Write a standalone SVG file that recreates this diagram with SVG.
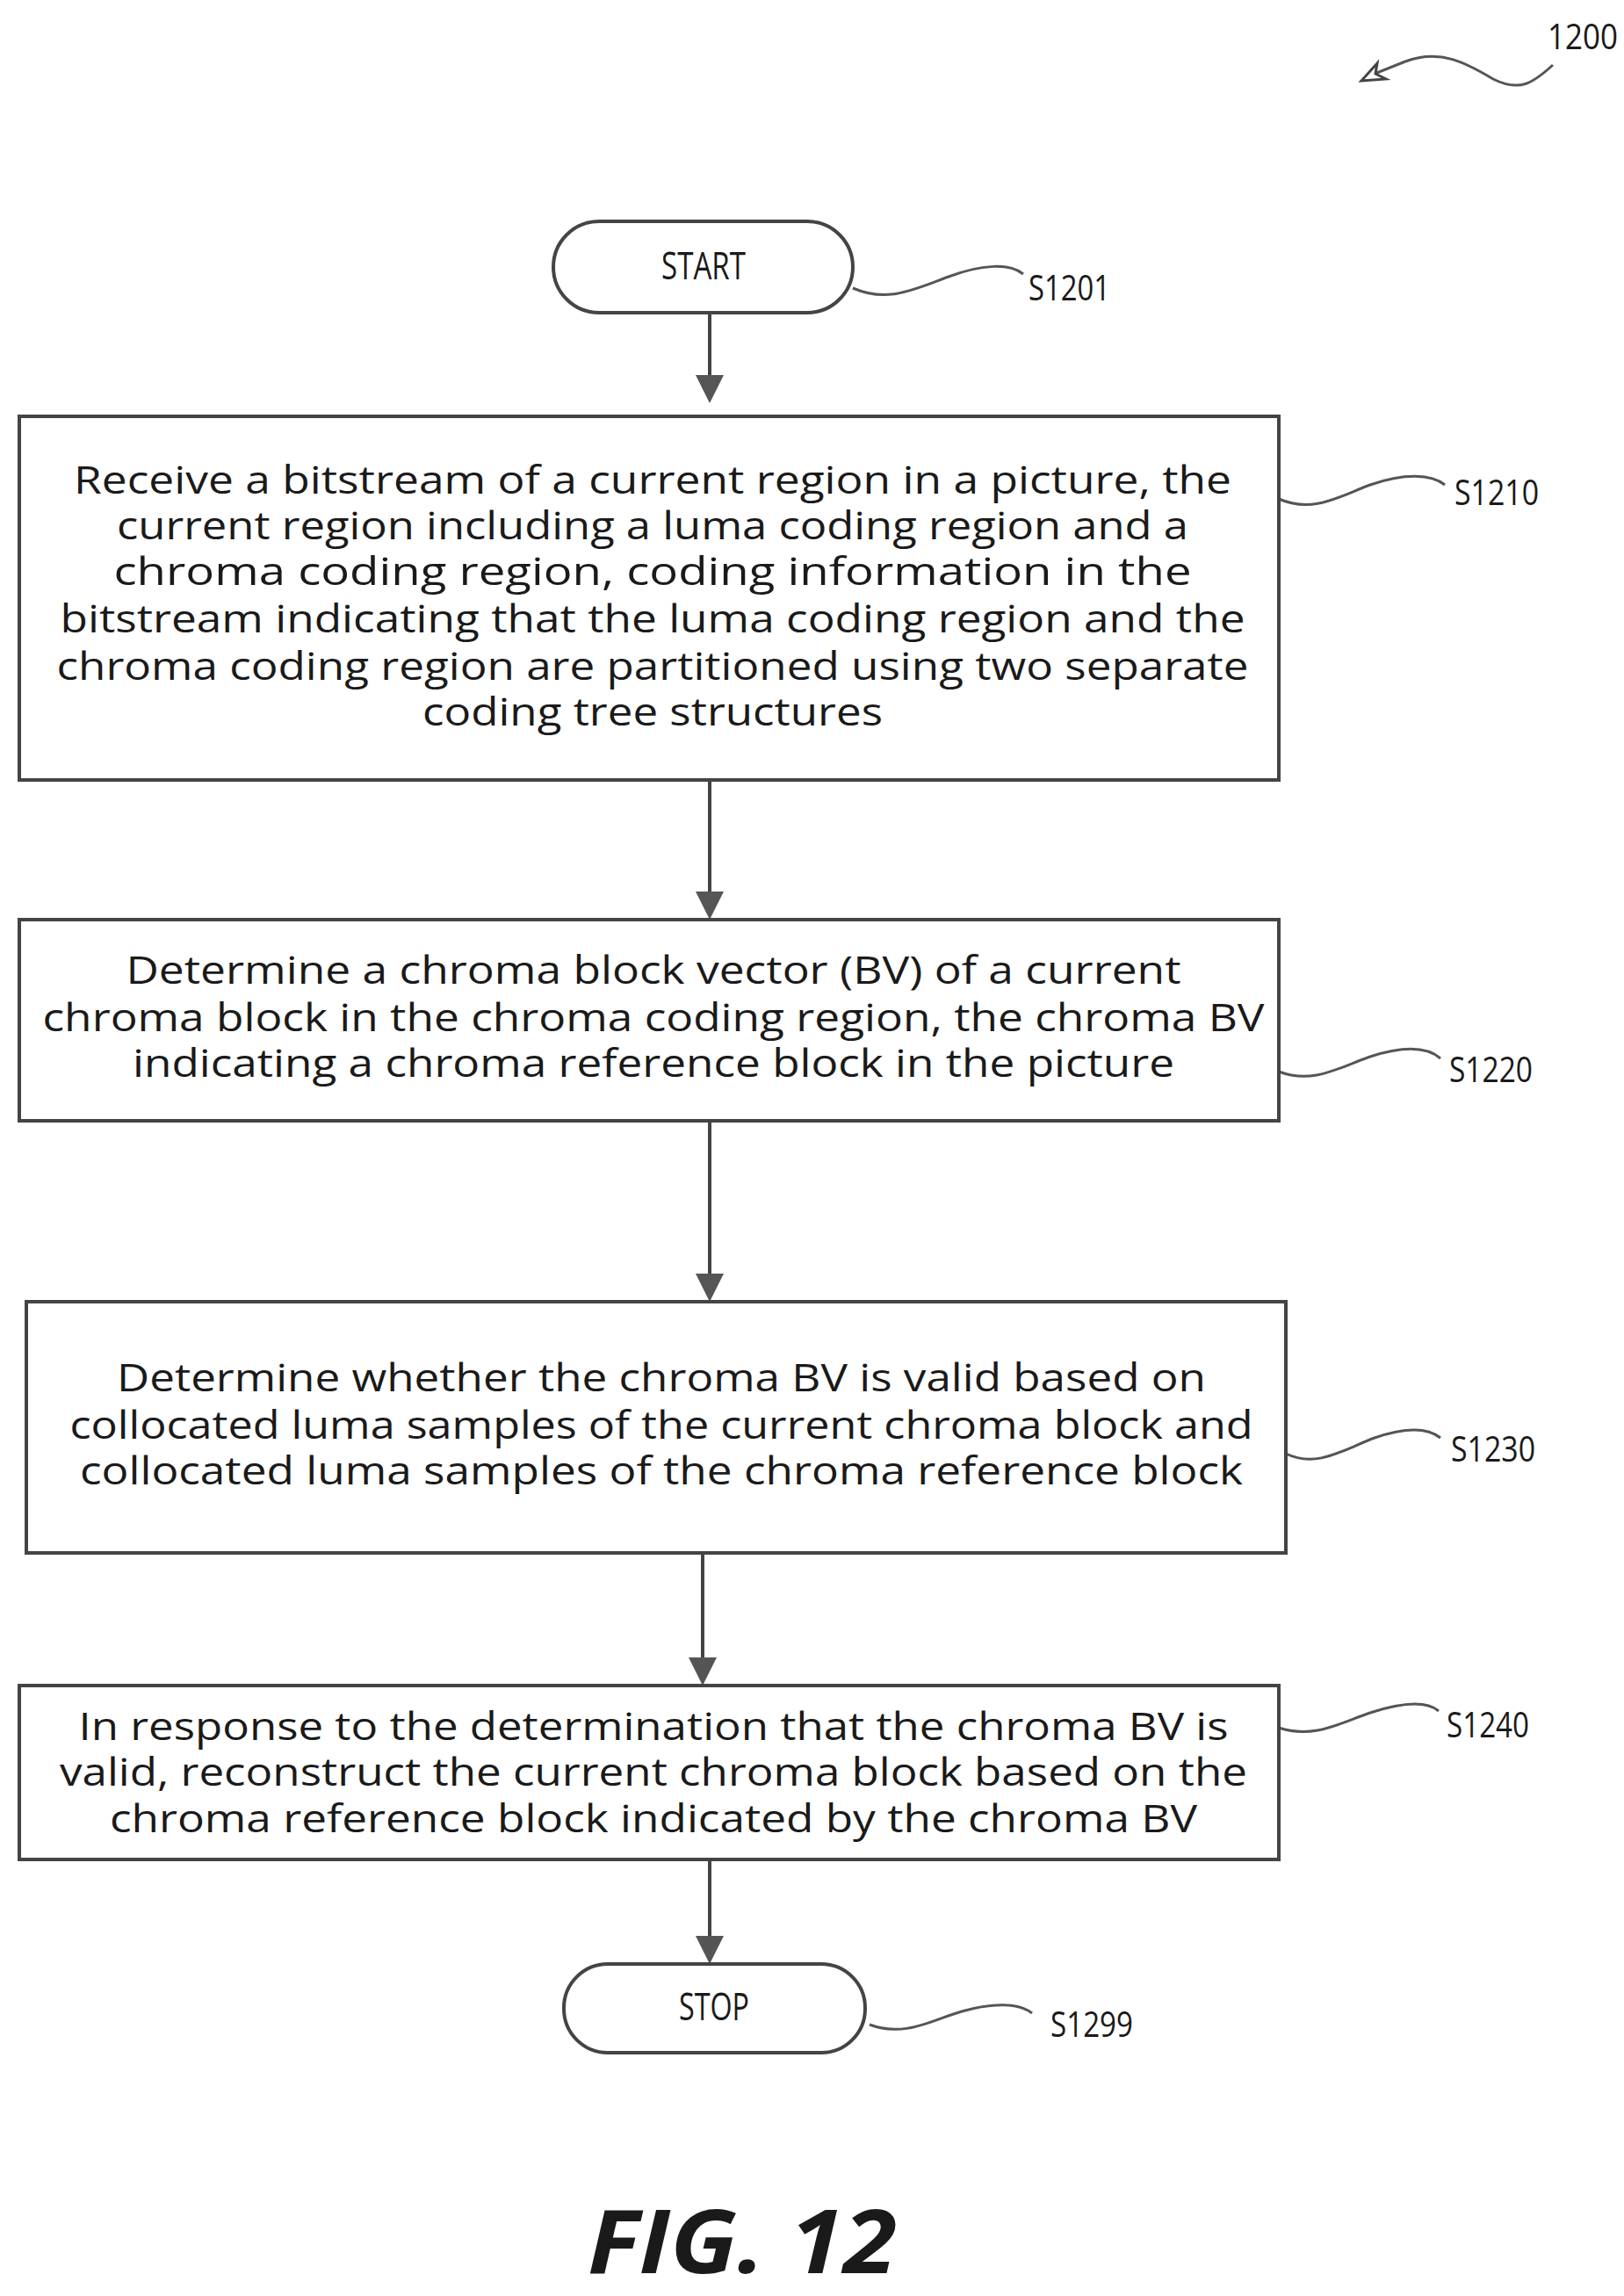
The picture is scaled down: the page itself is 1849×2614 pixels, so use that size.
<svg xmlns="http://www.w3.org/2000/svg" width="1849" height="2614" viewBox="0 0 1849 2614">
<style>
.b{fill:#fff;stroke:#444;stroke-width:4}
.t{font-family:"Open Sans","Liberation Sans",sans-serif;font-size:43px;fill:#1a1a1a;text-anchor:middle}
.l{font-family:"Open Sans","Liberation Sans",sans-serif;font-size:40px;fill:#1a1a1a}
.c{fill:none;stroke:#444;stroke-width:4}
.s{fill:none;stroke:#555;stroke-width:3}
</style>
<defs><marker id="a" markerWidth="8" markerHeight="8" refX="7" refY="4" orient="auto" markerUnits="strokeWidth"><path d="M0,0 L8,4 L0,8 Z" fill="#555"/></marker></defs>
<g id="connectors">
<line class="c" x1="808" y1="356" x2="808" y2="455" marker-end="url(#a)"/>
<line class="c" x1="808" y1="890" x2="808" y2="1043" marker-end="url(#a)"/>
<line class="c" x1="808" y1="1278" x2="808" y2="1478" marker-end="url(#a)"/>
<line class="c" x1="800" y1="1768" x2="800" y2="1915" marker-end="url(#a)"/>
<line class="c" x1="808" y1="2119" x2="808" y2="2232" marker-end="url(#a)"/>
<path class="s" d="M971,328 C1010,345 1040,330 1080,315 C1120,300 1150,300 1165,312"/>
<path class="s" d="M1456,568 C1495,585 1525,565 1560,552 C1600,538 1630,540 1645,552"/>
<path class="s" d="M1456,1220 C1495,1235 1525,1215 1560,1203 C1600,1190 1625,1192 1640,1205"/>
<path class="s" d="M1464,1655 C1500,1672 1530,1650 1565,1637 C1600,1625 1625,1625 1640,1637"/>
<path class="s" d="M1456,1967 C1495,1980 1525,1962 1560,1950 C1600,1937 1625,1937 1638,1948"/>
<path class="s" d="M990,2305 C1030,2320 1060,2300 1095,2290 C1130,2280 1160,2280 1175,2292"/>
<path class="s" d="M1768,74 C1745,95 1730,105 1700,90 C1670,72 1640,55 1600,70 C1585,76 1570,82 1560,86"/>
<path d="M1550,92 L1568,72 L1566,84 L1578,90 Z" fill="#fff" stroke="#444" stroke-width="3"/>
</g>
<text class="l" x="1762" y="56" textLength="80" lengthAdjust="spacingAndGlyphs">1200</text>
<g id="start"><rect class="b" x="630" y="252" width="341" height="104" rx="52"/><text class="t" x="801" y="318" font-size="42" textLength="96" lengthAdjust="spacingAndGlyphs">START</text></g>
<text class="l" x="1171" y="342" textLength="93" lengthAdjust="spacingAndGlyphs">S1201</text>
<g id="s1210"><rect class="b" x="22" y="474" width="1434" height="414"/>
<text class="t" x="743" y="562" textLength="1318" lengthAdjust="spacingAndGlyphs">Receive a bitstream of a current region in a picture, the</text>
<text class="t" x="743" y="614" textLength="1220" lengthAdjust="spacingAndGlyphs">current region including a luma coding region and a</text>
<text class="t" x="743" y="666" textLength="1227" lengthAdjust="spacingAndGlyphs">chroma coding region, coding information in the</text>
<text class="t" x="743" y="720" textLength="1349" lengthAdjust="spacingAndGlyphs">bitstream indicating that the luma coding region and the</text>
<text class="t" x="743" y="774" textLength="1357" lengthAdjust="spacingAndGlyphs">chroma coding region are partitioned using two separate</text>
<text class="t" x="743" y="826" textLength="524" lengthAdjust="spacingAndGlyphs">coding tree structures</text></g>
<text class="l" x="1656" y="575" textLength="96" lengthAdjust="spacingAndGlyphs">S1210</text>
<g id="s1220"><rect class="b" x="22" y="1047" width="1434" height="229"/>
<text class="t" x="744" y="1120" textLength="1201" lengthAdjust="spacingAndGlyphs">Determine a chroma block vector (BV) of a current</text>
<text class="t" x="744" y="1174" textLength="1391" lengthAdjust="spacingAndGlyphs">chroma block in the chroma coding region, the chroma BV</text>
<text class="t" x="744" y="1226" textLength="1186" lengthAdjust="spacingAndGlyphs">indicating a chroma reference block in the picture</text></g>
<text class="l" x="1650" y="1232" textLength="95" lengthAdjust="spacingAndGlyphs">S1220</text>
<g id="s1230"><rect class="b" x="30" y="1482" width="1434" height="286"/>
<text class="t" x="753" y="1584" textLength="1240" lengthAdjust="spacingAndGlyphs">Determine whether the chroma BV is valid based on</text>
<text class="t" x="753" y="1638" textLength="1347" lengthAdjust="spacingAndGlyphs">collocated luma samples of the current chroma block and</text>
<text class="t" x="753" y="1690" textLength="1324" lengthAdjust="spacingAndGlyphs">collocated luma samples of the chroma reference block</text></g>
<text class="l" x="1652" y="1664" textLength="96" lengthAdjust="spacingAndGlyphs">S1230</text>
<g id="s1240"><rect class="b" x="22" y="1919" width="1434" height="198"/>
<text class="t" x="744" y="1981" textLength="1309" lengthAdjust="spacingAndGlyphs">In response to the determination that the chroma BV is</text>
<text class="t" x="744" y="2033" textLength="1352" lengthAdjust="spacingAndGlyphs">valid, reconstruct the current chroma block based on the</text>
<text class="t" x="744" y="2086" textLength="1238" lengthAdjust="spacingAndGlyphs">chroma reference block indicated by the chroma BV</text></g>
<text class="l" x="1647" y="1978" textLength="94" lengthAdjust="spacingAndGlyphs">S1240</text>
<g id="stop"><rect class="b" x="642" y="2236" width="343" height="101" rx="50"/><text class="t" x="813" y="2300" font-size="42" textLength="80" lengthAdjust="spacingAndGlyphs">STOP</text></g>
<text class="l" x="1196" y="2319" textLength="94" lengthAdjust="spacingAndGlyphs">S1299</text>
<text x="669" y="2588" font-family="Open Sans,Liberation Sans,sans-serif" font-size="100" font-weight="bold" font-style="italic" fill="#1a1a1a" textLength="352" lengthAdjust="spacingAndGlyphs">FIG. 12</text>
</svg>
